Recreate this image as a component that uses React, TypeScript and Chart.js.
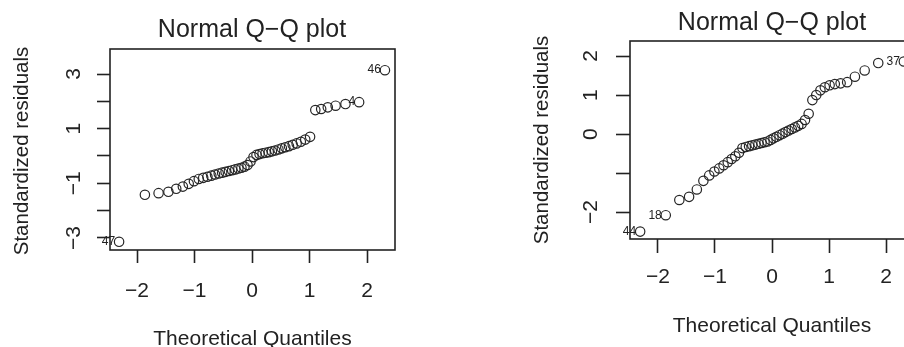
import React, { useEffect, useRef } from "react";
import { Chart, registerables } from "chart.js";

Chart.register(...registerables);

// ---------- data ----------
const leftX = [
  -2.312, -1.863, -1.625, -1.454, -1.318, -1.203, -1.101, -1.01, -0.926, -0.849, -0.776, -0.708,
  -0.643, -0.579, -0.519, -0.46, -0.402, -0.346, -0.291, -0.237, -0.184, -0.131, -0.078, -0.026,
  0.026, 0.078, 0.131, 0.184, 0.237, 0.291, 0.346, 0.402, 0.46, 0.519, 0.579, 0.643,
  0.708, 0.776, 0.849, 0.926, 1.01, 1.101, 1.203, 1.318, 1.454, 1.625, 1.863, 2.312,
];
const leftY = [
  -3.14, -1.42, -1.36, -1.31, -1.2, -1.12, -1.02, -0.92, -0.84, -0.8, -0.76, -0.72,
  -0.68, -0.64, -0.61, -0.58, -0.55, -0.52, -0.49, -0.46, -0.43, -0.39, -0.33, -0.2,
  -0.04, 0.04, 0.07, 0.1, 0.12, 0.14, 0.17, 0.2, 0.24, 0.28, 0.32, 0.36,
  0.41, 0.46, 0.52, 0.6, 0.7, 1.68, 1.72, 1.78, 1.84, 1.9, 1.97, 3.14,
];
const rightX = [
  -2.312, -1.863, -1.625, -1.454, -1.318, -1.203, -1.101, -1.01, -0.926, -0.849, -0.776, -0.708,
  -0.643, -0.579, -0.519, -0.46, -0.402, -0.346, -0.291, -0.237, -0.184, -0.131, -0.078, -0.026,
  0.026, 0.078, 0.131, 0.184, 0.237, 0.291, 0.346, 0.402, 0.46, 0.519, 0.579, 0.643,
  0.708, 0.776, 0.849, 0.926, 1.01, 1.101, 1.203, 1.318, 1.454, 1.625, 1.863, 2.312,
];
const rightY = [
  -2.5, -2.08, -1.69, -1.61, -1.42, -1.2, -1.06, -0.96, -0.88, -0.8, -0.72, -0.64,
  -0.57, -0.48, -0.36, -0.33, -0.31, -0.29, -0.27, -0.25, -0.23, -0.21, -0.19, -0.15,
  -0.11, -0.07, -0.03, 0.01, 0.05, 0.09, 0.13, 0.17, 0.21, 0.26, 0.36, 0.52,
  0.87, 1.0, 1.12, 1.2, 1.25, 1.28, 1.3, 1.33, 1.47, 1.63, 1.82, 1.86,
];
const leftLabelIdx = [0, 46, 47];
const leftLabelText = ["47", "4", "46"];
const rightLabelIdx = [0, 1, 47];
const rightLabelText = ["44", "18", "37"];
const xTicks = [-2, -1, 0, 1, 2];
const xTickLabels = ["\u22122", "\u22121", "0", "1", "2"];
const leftYTicks = [-3, -2, -1, 0, 1, 2, 3];
const leftYTickLabels = ["\u22123", "", "\u22121", "", "1", "", "3"];
const rightYTicks = [-2, -1, 0, 1, 2];
const rightYTickLabels = ["\u22122", "", "0", "1", "2"];
const mainTitle = "Normal Q\u2212Q plot";
const xAxisTitle = "Theoretical Quantiles";
const yAxisTitle = "Standardized residuals";

// ---------- layout ----------
const FONT = '"Liberation Sans", Arial, Helvetica, sans-serif';
const INK = "#222222";

type Panel = {
  x: number[];
  y: number[];
  labelIdx: number[];
  labelText: string[];
  yTicks: number[];
  yTickLabels: string[];
  xMin: number;
  xMax: number;
  yMin: number;
  yMax: number;
  left: number;
  width: number;
  area: { left: number; top: number; right: number; bottom: number };
  tickLen: number;
  titleX: number;
  titleBase: number;
  xTickBase: number;
  xTitleBase: number;
  yTickBase: number;
  yTitleBase: number;
  yTitleCenter: number;
};

const HEIGHT = 347;

const leftPanel: Panel = {
  x: leftX,
  y: leftY,
  labelIdx: leftLabelIdx,
  labelText: leftLabelText,
  yTicks: leftYTicks,
  yTickLabels: leftYTickLabels,
  xMin: -2.47,
  xMax: 2.487,
  yMin: -3.44,
  yMax: 3.915,
  left: 0,
  width: 452,
  area: { left: 110, top: 49, right: 395, bottom: 250 },
  tickLen: 13,
  titleX: 252,
  titleBase: 37,
  xTickBase: 297,
  xTitleBase: 345,
  yTickBase: 80,
  yTitleBase: 28,
  yTitleCenter: 151,
};

const rightPanel: Panel = {
  x: rightX,
  y: rightY,
  labelIdx: rightLabelIdx,
  labelText: rightLabelText,
  yTicks: rightYTicks,
  yTickLabels: rightYTickLabels,
  xMin: -2.49,
  xMax: 2.49,
  yMin: -2.69,
  yMax: 2.385,
  left: 452,
  width: 500,
  area: { left: 178, top: 41, right: 462, bottom: 239 },
  tickLen: 14,
  titleX: 320,
  titleBase: 30,
  xTickBase: 283,
  xTitleBase: 332,
  yTickBase: 145,
  yTitleBase: 96,
  yTitleCenter: 140,
};

function QQPanel({ p }: { p: Panel }) {
  const ref = useRef<HTMLCanvasElement | null>(null);

  useEffect(() => {
    if (!ref.current) return;
    const decor = {
      id: "rdecor",
      afterDraw(chart: any) {
        const ctx = chart.ctx as CanvasRenderingContext2D;
        const a = chart.chartArea;
        const xs = chart.scales.x;
        const ys = chart.scales.y;
        ctx.save();
        // box
        ctx.strokeStyle = INK;
        ctx.lineWidth = 1.6;
        ctx.strokeRect(a.left, a.top, a.right - a.left, a.bottom - a.top);
        ctx.fillStyle = INK;
        // x tick labels
        ctx.font = `21px ${FONT}`;
        ctx.textAlign = "center";
        ctx.textBaseline = "alphabetic";
        xTicks.forEach((v, i) => {
          ctx.fillText(xTickLabels[i], xs.getPixelForValue(v), p.xTickBase);
        });
        // y tick labels (rotated)
        p.yTicks.forEach((v, i) => {
          const t = p.yTickLabels[i];
          if (!t) return;
          ctx.save();
          ctx.translate(p.yTickBase, ys.getPixelForValue(v));
          ctx.rotate(-Math.PI / 2);
          ctx.textAlign = "center";
          ctx.fillText(t, 0, 0);
          ctx.restore();
        });
        // titles
        ctx.font = `25px ${FONT}`;
        ctx.textAlign = "center";
        ctx.fillText(mainTitle, p.titleX, p.titleBase);
        ctx.font = `21px ${FONT}`;
        ctx.fillText(xAxisTitle, (a.left + a.right) / 2, p.xTitleBase);
        ctx.save();
        ctx.translate(p.yTitleBase, p.yTitleCenter);
        ctx.rotate(-Math.PI / 2);
        ctx.font = `20.5px ${FONT}`;
        ctx.textAlign = "center";
        ctx.fillText(yAxisTitle, 0, 0);
        ctx.restore();
        // point labels
        ctx.font = `12px ${FONT}`;
        ctx.textAlign = "right";
        ctx.textBaseline = "middle";
        p.labelIdx.forEach((idx, i) => {
          const px = xs.getPixelForValue(p.x[idx]);
          const py = ys.getPixelForValue(p.y[idx]);
          ctx.fillText(p.labelText[i], px - 4, py);
        });
        ctx.restore();
      },
    };

    const chart = new Chart(ref.current, {
      type: "scatter",
      data: {
        datasets: [
          {
            data: p.x.map((v, i) => ({ x: v, y: p.y[i] })),
            pointStyle: "circle",
            pointRadius: 4.7,
            pointBorderWidth: 1.2,
            borderColor: "#262626",
            backgroundColor: "rgba(0,0,0,0)",
            clip: false as any,
          },
        ],
      },
      options: {
        animation: false,
        responsive: false,
        events: [],
        layout: {
          padding: {
            top: p.area.top,
            right: p.width - p.area.right,
            left: 0,
            bottom: 0,
          },
        },
        plugins: {
          legend: { display: false },
          tooltip: { enabled: false },
        },
        scales: {
          x: {
            type: "linear",
            min: p.xMin,
            max: p.xMax,
            afterBuildTicks: (s: any) => {
              s.ticks = xTicks.map((v) => ({ value: v }));
            },
            afterFit: (s: any) => {
              s.height = HEIGHT - p.area.bottom;
            },
            ticks: { display: false },
            border: { display: false },
            grid: {
              display: true,
              drawOnChartArea: false,
              drawTicks: true,
              tickLength: p.tickLen,
              tickColor: INK,
              tickWidth: 1.6,
              color: INK,
            },
          },
          y: {
            type: "linear",
            min: p.yMin,
            max: p.yMax,
            afterBuildTicks: (s: any) => {
              s.ticks = p.yTicks.map((v) => ({ value: v }));
            },
            afterFit: (s: any) => {
              s.width = p.area.left;
            },
            ticks: { display: false },
            border: { display: false },
            grid: {
              display: true,
              drawOnChartArea: false,
              drawTicks: true,
              tickLength: p.tickLen,
              tickColor: INK,
              tickWidth: 1.6,
              color: INK,
            },
          },
        },
      },
      plugins: [decor],
    } as any);
    return () => chart.destroy();
  }, [p]);

  return (
    <canvas
      ref={ref}
      width={p.width}
      height={HEIGHT}
      style={{ position: "absolute", left: p.left, top: 0, width: p.width, height: HEIGHT, display: "block" }}
    />
  );
}

export default function App() {
  return (
    <div
      style={{
        position: "fixed",
        left: 0,
        top: 0,
        width: 904,
        height: HEIGHT,
        overflow: "hidden",
        background: "#ffffff",
      }}
    >
      <QQPanel p={leftPanel} />
      <QQPanel p={rightPanel} />
    </div>
  );
}
